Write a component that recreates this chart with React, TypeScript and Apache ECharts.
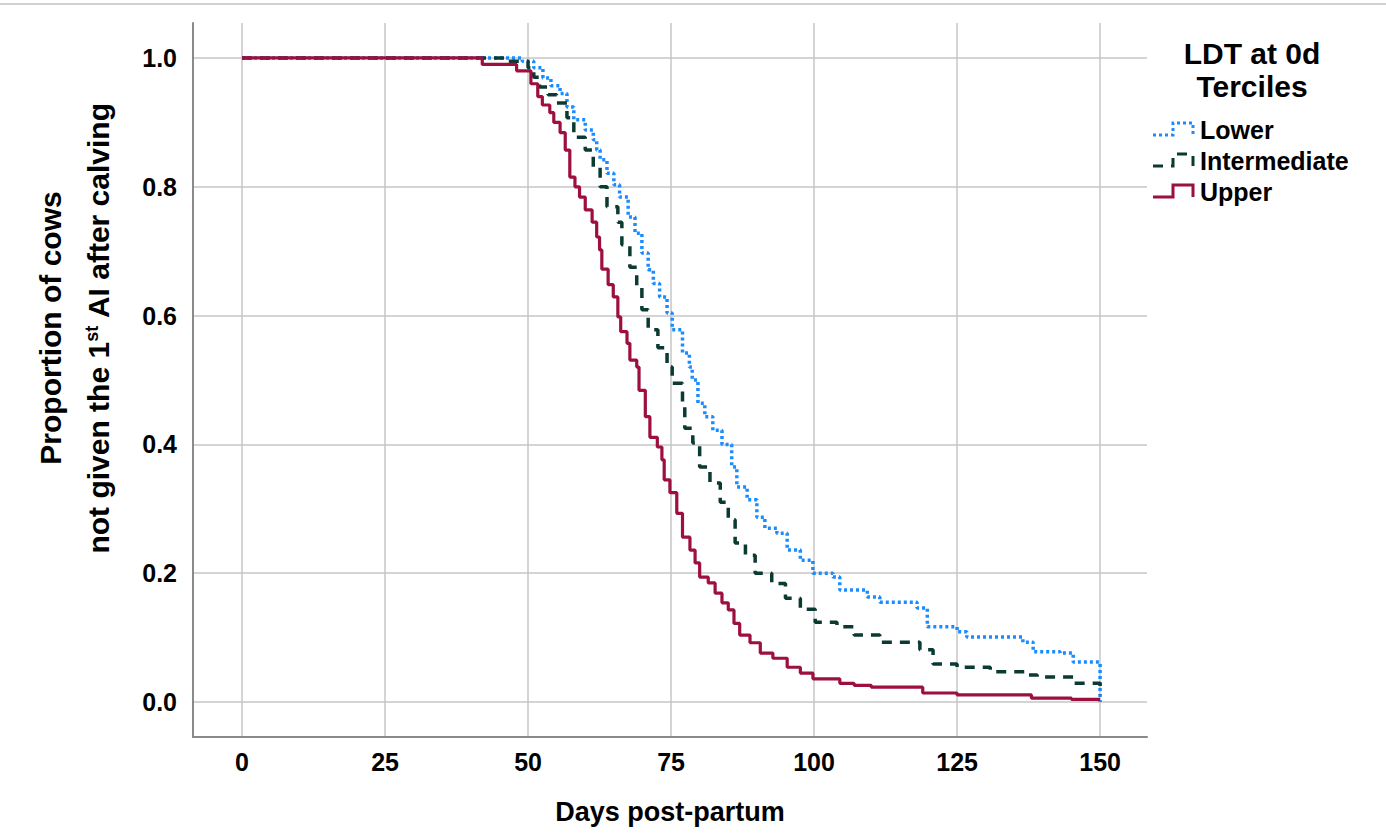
import React, { useEffect, useRef } from "react";
import * as echarts from "echarts";

// Kaplan-Meier step data (day, proportion still not inseminated)
const lowerDays = [0, 49, 51, 52.6, 54, 55.6, 56.8, 58, 60, 61.4, 62, 62.6, 63.8, 65, 66, 67.5, 68.7, 69.9, 71, 71.9, 73, 74.3, 75.2, 77, 78.2, 78.7, 79.7, 80.9, 82.3, 83.9, 85.6, 86.5, 88.3, 90, 91.4, 93.5, 95.3, 97.6, 99.8, 103.3, 104.5, 109.3, 111.5, 118, 119.8, 125, 126.7, 136.5, 138.3, 143, 145.3, 150];
const lowerSurv = [1, 0.995, 0.985, 0.969, 0.957, 0.945, 0.924, 0.904, 0.888, 0.873, 0.857, 0.842, 0.821, 0.803, 0.784, 0.753, 0.728, 0.697, 0.671, 0.65, 0.629, 0.604, 0.578, 0.542, 0.52, 0.5, 0.464, 0.443, 0.422, 0.4, 0.365, 0.334, 0.314, 0.287, 0.27, 0.262, 0.236, 0.22, 0.2, 0.194, 0.174, 0.163, 0.155, 0.146, 0.117, 0.109, 0.101, 0.093, 0.078, 0.076, 0.062, 0];

const midDays = [0, 46, 50, 51, 52, 53.5, 55, 56.8, 58, 60, 61.4, 62.6, 63.8, 65.7, 66.4, 67.8, 69, 69.9, 71, 72.7, 74.3, 75.2, 77, 77.4, 78.8, 80, 81.8, 83.6, 85, 86.2, 88, 89.7, 92.6, 95, 97.6, 100.2, 104, 107, 111.5, 118.5, 120.8, 125, 130.8, 137.2, 139, 145.3, 150];
const midSurv = [1, 0.995, 0.985, 0.97, 0.955, 0.943, 0.93, 0.907, 0.877, 0.857, 0.83, 0.8, 0.769, 0.745, 0.71, 0.675, 0.645, 0.609, 0.578, 0.55, 0.52, 0.495, 0.464, 0.425, 0.402, 0.365, 0.34, 0.31, 0.283, 0.247, 0.228, 0.2, 0.184, 0.161, 0.144, 0.124, 0.117, 0.104, 0.093, 0.081, 0.059, 0.054, 0.047, 0.042, 0.039, 0.029, 0.012];

const upperDays = [0, 42, 48, 50.5, 51.7, 52.5, 53.8, 54.5, 55.6, 56.5, 57.3, 58.2, 59, 60, 61.2, 62, 62.5, 62.9, 64, 64.9, 65.7, 66.2, 67.3, 67.8, 69, 69.4, 70.5, 71.3, 72.6, 73.4, 73.8, 74.8, 76, 77, 78.3, 79.2, 80, 81.5, 82.7, 83.9, 85, 86, 87, 88.8, 90.6, 92.8, 95.3, 97.6, 99.8, 104.5, 107, 110, 119, 125, 138, 145, 150];
const upperSurv = [1, 0.99, 0.98, 0.96, 0.94, 0.927, 0.915, 0.9, 0.884, 0.857, 0.815, 0.8, 0.784, 0.764, 0.745, 0.722, 0.702, 0.672, 0.648, 0.629, 0.598, 0.575, 0.557, 0.531, 0.52, 0.484, 0.443, 0.411, 0.396, 0.376, 0.345, 0.325, 0.293, 0.256, 0.236, 0.216, 0.194, 0.185, 0.169, 0.154, 0.143, 0.122, 0.104, 0.092, 0.076, 0.068, 0.054, 0.045, 0.036, 0.029, 0.026, 0.023, 0.014, 0.011, 0.006, 0.004, 0.004];

const xTicks = [0, 25, 50, 75, 100, 125, 150];
const yTicks = [0, 0.2, 0.4, 0.6, 0.8, 1.0];
const seriesNames = ["Lower", "Intermediate", "Upper"];
const legendTitle = "LDT at 0d\nTerciles";

const FONT = "'Liberation Sans', Arial, Helvetica, sans-serif";
const COLORS = ["#1a8cff", "#0b3a33", "#9c0f3e"];

const pairs = (xs: number[], ys: number[]) => xs.map((x, i) => [x, ys[i]]);

export default function App() {
  const ref = useRef<HTMLDivElement>(null);
  useEffect(() => {
    if (!ref.current) return;
    const chart = echarts.init(ref.current, null, { renderer: "svg" });
    const legendRows = [
      { name: seriesNames[0], cy: 129, dash: [3, 3], color: COLORS[0] },
      { name: seriesNames[1], cy: 160, dash: [10, 8], color: COLORS[1] },
      { name: seriesNames[2], cy: 191, dash: null, color: COLORS[2] },
    ];
    const legendGraphics: any[] = [];
    legendRows.forEach((r) => {
      legendGraphics.push({
        type: "polyline",
        shape: {
          points: [
            [1153, r.cy + 6],
            [1173, r.cy + 6],
            [1173, r.cy - 6],
            [1193, r.cy - 6],
            [1193, r.cy + 6],
          ],
        },
        style: { stroke: r.color, lineWidth: 3, lineDash: r.dash, fill: null },
      });
      legendGraphics.push({
        type: "text",
        x: 1200,
        y: r.cy + 1,
        style: {
          text: r.name,
          fill: "#000",
          fontSize: 25,
          fontWeight: "bold",
          fontFamily: FONT,
          align: "left",
          verticalAlign: "middle",
        },
      });
    });

    const main = { fontSize: 30, fontWeight: "bold", fontFamily: FONT, fill: "#000", lineHeight: 48 };

    const option: any = {
      animation: false,
      backgroundColor: "#ffffff",
      grid: { left: 193, top: 23, right: 239, bottom: 101, containLabel: false },
      xAxis: {
        type: "value",
        min: -8.57,
        max: 158.2,
        axisLine: { show: true, onZero: false, lineStyle: { color: "#8a8a8a", width: 2 } },
        axisTick: { show: false, customValues: xTicks },
        axisLabel: {
          customValues: xTicks,
          fontSize: 25,
          fontWeight: "bold",
          color: "#000",
          fontFamily: FONT,
          margin: 12,
        },
        splitLine: { show: true, lineStyle: { color: "#c6c6c6", width: 1.5 } },
        name: "Days post-partum",
        nameLocation: "middle",
        nameGap: 61,
        nameTextStyle: { fontSize: 27, fontWeight: "bold", color: "#000", fontFamily: FONT },
      },
      yAxis: {
        type: "value",
        min: -0.0543,
        max: 1.0543,
        axisLine: { show: true, onZero: false, lineStyle: { color: "#8a8a8a", width: 2 } },
        axisTick: { show: false, customValues: yTicks },
        axisLabel: {
          customValues: yTicks,
          formatter: (v: number) => v.toFixed(1),
          fontSize: 25,
          fontWeight: "bold",
          color: "#000",
          fontFamily: FONT,
          margin: 16,
        },
        splitLine: { show: true, lineStyle: { color: "#c6c6c6", width: 1.5 } },
      },
      series: [
        {
          name: seriesNames[0],
          type: "line",
          step: "end",
          showSymbol: false,
          data: pairs(lowerDays, lowerSurv),
          lineStyle: { color: COLORS[0], width: 3.5, type: [3, 3] },
          itemStyle: { color: COLORS[0] },
          z: 2,
        },
        {
          name: seriesNames[1],
          type: "line",
          step: "end",
          showSymbol: false,
          data: pairs(midDays, midSurv),
          lineStyle: { color: COLORS[1], width: 3.5, type: [10, 8] },
          itemStyle: { color: COLORS[1] },
          z: 3,
        },
        {
          name: seriesNames[2],
          type: "line",
          step: "end",
          showSymbol: false,
          data: pairs(upperDays, upperSurv),
          lineStyle: { color: COLORS[2], width: 3.2 },
          itemStyle: { color: COLORS[2] },
          z: 4,
        },
      ],
      graphic: [
        {
          type: "line",
          shape: { x1: 0, y1: 4, x2: 1386, y2: 4 },
          style: { stroke: "#d0d0d0", lineWidth: 2 },
        },
        {
          type: "text",
          x: 74,
          y: 328,
          rotation: Math.PI / 2,
          style: {
            text: "{m|Proportion of cows}\n{m|not given the 1}{sup|st}{m| AI after calving}",
            fill: "#000",
            fontSize: 30,
            fontWeight: "bold",
            fontFamily: FONT,
            align: "center",
            verticalAlign: "middle",
            lineHeight: 48,
            rich: {
              m: main,
              sup: {
                fontSize: 18,
                fontWeight: "bold",
                fontFamily: FONT,
                fill: "#000",
                verticalAlign: "middle",
                padding: [0, 0, 12, 0],
              },
            },
          },
        },
        {
          type: "text",
          x: 1252,
          y: 70,
          style: {
            text: legendTitle,
            fill: "#000",
            fontSize: 30,
            fontWeight: "bold",
            fontFamily: FONT,
            align: "center",
            verticalAlign: "middle",
            lineHeight: 33.5,
          },
        },
        ...legendGraphics,
      ],
    };
    chart.setOption(option);
    return () => chart.dispose();
  }, []);
  return (
    <div
      ref={ref}
      style={{ position: "fixed", left: 0, top: 0, width: 1386, height: 838, background: "#fff" }}
    />
  );
}
